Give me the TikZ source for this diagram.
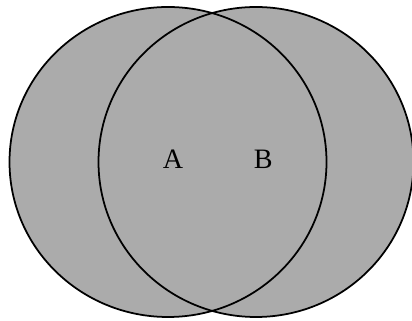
\documentclass[tikz,border=0pt]{standalone}
\usepackage{fontspec}
\setmainfont{Liberation Serif}
\usetikzlibrary{positioning}

\begin{document}
\begin{tikzpicture}[
 setfill/.style={fill=black!33},
 setline/.style={draw=black,line width=1pt},
 lbl/.style={font=\fontsize{16}{18}\selectfont,inner sep=0pt}]
\clip (0,0) rectangle (8.24,6.42);
\useasboundingbox (0,0) rectangle (8.24,6.42);
\fill[white] (0,0) rectangle (8.24,6.42);
% both sets, one shade
\fill[setfill] (3.36,3.18) ellipse [x radius=3.17,y radius=3.1];
\fill[setfill] (5.12,3.18) ellipse [x radius=3.15,y radius=3.1];
\draw[setline] (3.36,3.18) ellipse [x radius=3.17,y radius=3.1];
\draw[setline] (5.12,3.18) ellipse [x radius=3.15,y radius=3.1];
\node[lbl] (a) at (3.46,3.24) {A};
\node[lbl,right=1.4cm of a] (b) {B};
\end{tikzpicture}
\end{document}
